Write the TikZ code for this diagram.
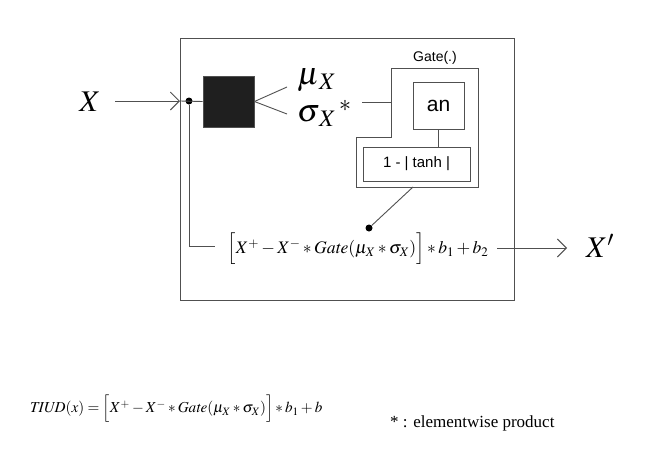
\documentclass[tikz,border=0pt]{standalone}
\usepackage{mathptmx}
\usepackage{fontspec}
\setmainfont{Liberation Serif}
\newfontfamily\gsans{Liberation Sans}
\usetikzlibrary{arrows.meta}
\definecolor{ln}{HTML}{505050}
\tikzset{
  wire/.style={draw=ln, line width=0.9pt},
  arr/.style={wire, -{Straight Barb[length=9pt,width=18pt,line width=0.9pt]}},
  box/.style={draw=ln, line width=0.9pt, inner sep=0pt},
  dotn/.style={circle, fill=black, inner sep=0pt, minimum size=7pt},
  lbl/.style={inner sep=0pt},
}
\begin{document}
\begin{tikzpicture}[x=1pt,y=-1pt]
\useasboundingbox (0,0) rectangle (658,453);
% outer box
\node[box, minimum width=334pt, minimum height=262pt] (outer) at (347,169) {};
% input
\node[lbl, font=\fontsize{30}{32}\selectfont] (X) at (90,102) {$X$};
\coordinate (xs) at (115,101);
\coordinate (in) at (180,101);
\node[dotn] (d1) at (189,101) {};
\node[box, fill=black!88, minimum width=51pt, minimum height=51pt] (sq) at (228.5,101.5) {};
\draw[arr] (xs) -- (in);
\draw[wire] (in) -- (sq.west);
% mu sigma
\coordinate (mu) at (287,87);
\coordinate (sg) at (287,114);
\draw[wire] (sq.east) -- (mu);
\draw[wire] (sq.east) -- (sg);
\node[lbl, font=\fontsize{32}{34}\selectfont, anchor=west] (mulbl) at (297,80) {$\mu_{\,X}$};
\node[lbl, font=\fontsize{32}{34}\selectfont, anchor=west] (sglbl) at (297,116) {$\sigma_{\,X}$};
\node[lbl, font=\fontsize{24}{26}\selectfont] (star) at (345,106) {$*$};
% gate
\draw[wire] (391,68) -- (478,68) -- (478,187) -- (356,187) -- (356,137) -- (391,137) -- cycle;
\coordinate (gin) at (391,102);
\coordinate (sout) at (362,102);
\draw[wire] (sout) -- (gin);
\node[lbl, font=\gsans\fontsize{14}{16}\selectfont] (gatelbl) at (435,58) {Gate(.)};
\node[box, minimum width=51pt, minimum height=47pt, font=\gsans\fontsize{21}{23}\selectfont] (an) at (438.5,105.5) {an};
\node[box, minimum width=107pt, minimum height=34pt, font=\gsans\fontsize{15}{17}\selectfont] (tanh) at (416.5,164) {1 - | tanh |};
\draw[wire] (an.south) -- (an.south |- tanh.north);
% formula
\node[lbl, font=\fontsize{17.6}{20}\selectfont] (f) at (358,249)
  {$\Big[X^{+}-X^{-}*\mathit{Gate}(\mu_{X}*\sigma_{X})\Big]*b_{1}+b_{2}$};
\node[dotn] (d2) at (369,228) {};
\coordinate (gout) at (413,187);
\draw[wire] (gout) -- (d2);
\coordinate (corner) at (189,246);
\coordinate (fl) at (215,246);
\draw[wire] (d1) -- (corner) -- (fl);
% output
\node[lbl, font=\fontsize{30}{32}\selectfont] (Xp) at (600,246) {$X'$};
\coordinate (fo) at (497,248);
\coordinate (xpi) at (567,248);
\draw[arr] (fo) -- (xpi);
% bottom
\node[lbl, font=\fontsize{15.2}{17}\selectfont, anchor=west] (tiud) at (30,409)
  {$\mathit{TIUD}(x)=\Big[X^{+}-X^{-}*\mathit{Gate}(\mu_{X}*\sigma_{X})\Big]*b_{1}+b$};
\node[lbl, font=\fontsize{17}{19}\selectfont, anchor=west] (note) at (390,423) {* : elementwise product};
\end{tikzpicture}
\end{document}
